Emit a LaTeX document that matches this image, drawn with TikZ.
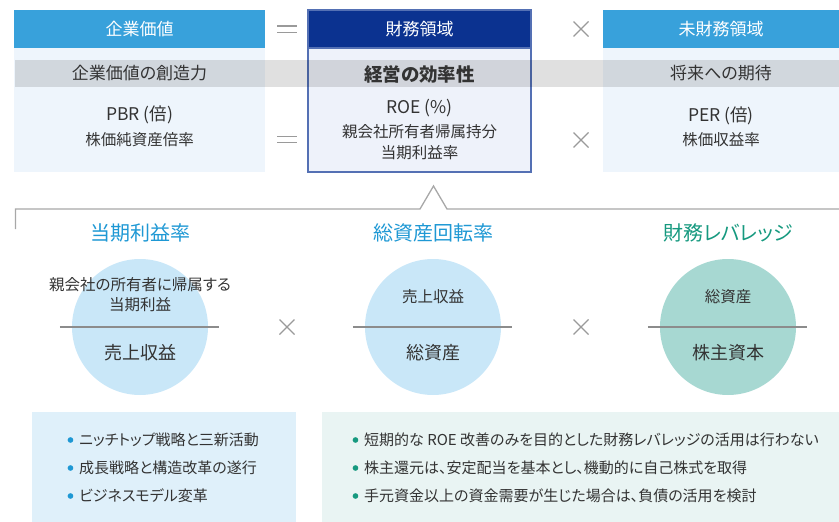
\documentclass[tikz,border=0pt]{standalone}
\usepackage{fontspec}
\setmainfont{Noto Sans CJK JP}[RawFeature=+palt]
\usetikzlibrary{positioning}
\definecolor{hdblue}{HTML}{38A1DB}
\definecolor{hdnavy}{HTML}{0B3290}
\definecolor{frnavy}{HTML}{5470B4}
\definecolor{bdpale}{HTML}{EEF5FC}
\definecolor{bdmid}{HTML}{EEF2FA}
\definecolor{txgray}{HTML}{333333}
\definecolor{ttblue}{HTML}{1E98D4}
\definecolor{ttgreen}{HTML}{16997F}
\definecolor{cirblue}{HTML}{C9E7F8}
\definecolor{cirgreen}{HTML}{A7D8D2}
\definecolor{boxblue}{HTML}{DFF0FA}
\definecolor{boxgreen}{HTML}{E9F4F3}
\definecolor{lngray}{HTML}{8C8C8C}
\definecolor{opgray}{HTML}{9A9A9A}
\definecolor{brgray}{HTML}{A8A8A8}
\newcommand{\fs}[1]{\fontsize{#1}{#1}\selectfont}
\begin{document}
\begin{tikzpicture}[x=1pt,y=-1pt,
  hdr/.style={minimum height=38pt,inner sep=0pt,outer sep=0pt,text=white,font=\fs{17}},
  bdy/.style={minimum height=124pt,inner sep=0pt,outer sep=0pt},
  txt/.style={inner sep=0pt,text=txgray,font=\fs{#1}},
  ttl/.style={inner sep=0pt,font=\fs{20}},
  circ/.style={circle,minimum size=136pt,inner sep=0pt},
  frac/.style={draw=lngray,line width=1.4pt},
  opl/.style={draw=opgray,line width=1.4pt},
  bul/.style={anchor=west,inner sep=0pt,text=txgray,font=\fs{15},
    label={[circle,fill=#1,inner sep=2pt,label distance=5.5pt]left:{}}}]
\path[use as bounding box] (0,0) rectangle (839,522);
\node(BL)[bdy,fill=bdpale,minimum width=251pt] at (139.5,110){};
\node(HL)[hdr,fill=hdblue,minimum width=251pt] at (139.5,29){企業価値};
\node(BM)[bdy,fill=bdmid,draw=frnavy,line width=1.2pt,minimum width=223pt] at (419.5,110){};
\node(HM)[hdr,fill=hdnavy,draw=frnavy,line width=1.2pt,minimum width=223pt] at (419.5,29){財務領域};
\node(BR)[bdy,fill=bdpale,minimum width=236pt] at (721,110){};
\node(HR)[hdr,fill=hdblue,minimum width=236pt] at (721,29){未財務領域};
\fill[black,opacity=.12] (15,60) rectangle (839,87);
\node(VL)[txt=17] at (139.5,73.5){企業価値の創造力};
\node(VM)[txt=18.5,font=\fs{18.5}\bfseries] at (419.5,74){経営の効率性};
\node(VR)[txt=17] at (721,73.5){将来への期待};
\node(PBR)[txt=17.5] at (139.5,115){PBR (倍)};
\node[txt=15.5] at ([yshift=-25pt]PBR.center){株価純資産倍率};
\node(ROE)[txt=17.5] at (419.5,108){ROE (\%)};
\node(ROEa)[txt=15.5] at ([yshift=-24pt]ROE.center){親会社所有者帰属持分};
\node[txt=15.5] at ([yshift=-21pt]ROEa.center){当期利益率};
\node(PER)[txt=17.5] at (721,116){PER (倍)};
\node[txt=15.5] at ([yshift=-24pt]PER.center){株価収益率};
\foreach \u/\v in {287/29,287/139.5}
  \draw[opl] (\u-10,\v-3.2) -- (\u+10,\v-3.2) (\u-10,\v+3.2) -- (\u+10,\v+3.2);
\foreach \u/\v in {581/29,581/140,287/327,581/327}
  \draw[opl] (\u-7.5,\v-7.5) -- (\u+7.5,\v+7.5) (\u-7.5,\v+7.5) -- (\u+7.5,\v-7.5);
\draw[brgray,line width=1.3pt] (15.5,229) -- (15.5,209) -- (420,209) -- (433.5,186) -- (447,209) -- (839,209);
\node(TP)[ttl,text=ttblue] at (140,233){当期利益率};
\node(TT)[ttl,text=ttblue] at (433,233){総資産回転率};
\node(TL)[ttl,text=ttgreen] at (728,233){財務レバレッジ};
\node(CP)[circ,fill=cirblue] at (140,327){};
\node(CT)[circ,fill=cirblue] at (433,327){};
\node(CL)[circ,fill=cirgreen] at (728,327){};
\draw[frac] ([xshift=-12pt]CP.west) -- ([xshift=11pt]CP.east);
\draw[frac] ([xshift=-12pt]CT.west) -- ([xshift=11pt]CT.east);
\draw[frac] ([xshift=-12pt]CL.west) -- ([xshift=11pt]CL.east);
\node(CPn)[txt=15.5] at ([yshift=42pt]CP.center){親会社の所有者に帰属する};
\node[txt=15.5] at ([yshift=-20pt]CPn.center){当期利益};
\node[txt=18] at ([yshift=-26pt]CP.center){売上収益};
\node[txt=15.5] at ([yshift=30pt]CT.center){売上収益};
\node[txt=18] at ([yshift=-26pt]CT.center){総資産};
\node[txt=15.5] at ([yshift=30pt]CL.center){総資産};
\node[txt=18] at ([yshift=-26pt]CL.center){株主資本};
\node(NL)[minimum width=264pt,minimum height=110pt,inner sep=0pt,fill=boxblue] at (164,467){};
\node(NR)[minimum width=517pt,minimum height=110pt,inner sep=0pt,fill=boxgreen] at (580.5,467){};
\node(NL1)[bul=ttblue] at (79,440){ニッチトップ戦略と三新活動};
\node(NL2)[bul=ttblue] at (79,468){成長戦略と構造改革の遂行};
\node(NL3)[bul=ttblue] at (79,496){ビジネスモデル変革};
\node(NR1)[bul=ttgreen] at (364,440){短期的な ROE 改善のみを目的とした財務レバレッジの活用は行わない};
\node(NR2)[bul=ttgreen] at (364,468){株主還元は、安定配当を基本とし、機動的に自己株式を取得};
\node(NR3)[bul=ttgreen] at (364,496){手元資金以上の資金需要が生じた場合は、負債の活用を検討};
\end{tikzpicture}
\end{document}
